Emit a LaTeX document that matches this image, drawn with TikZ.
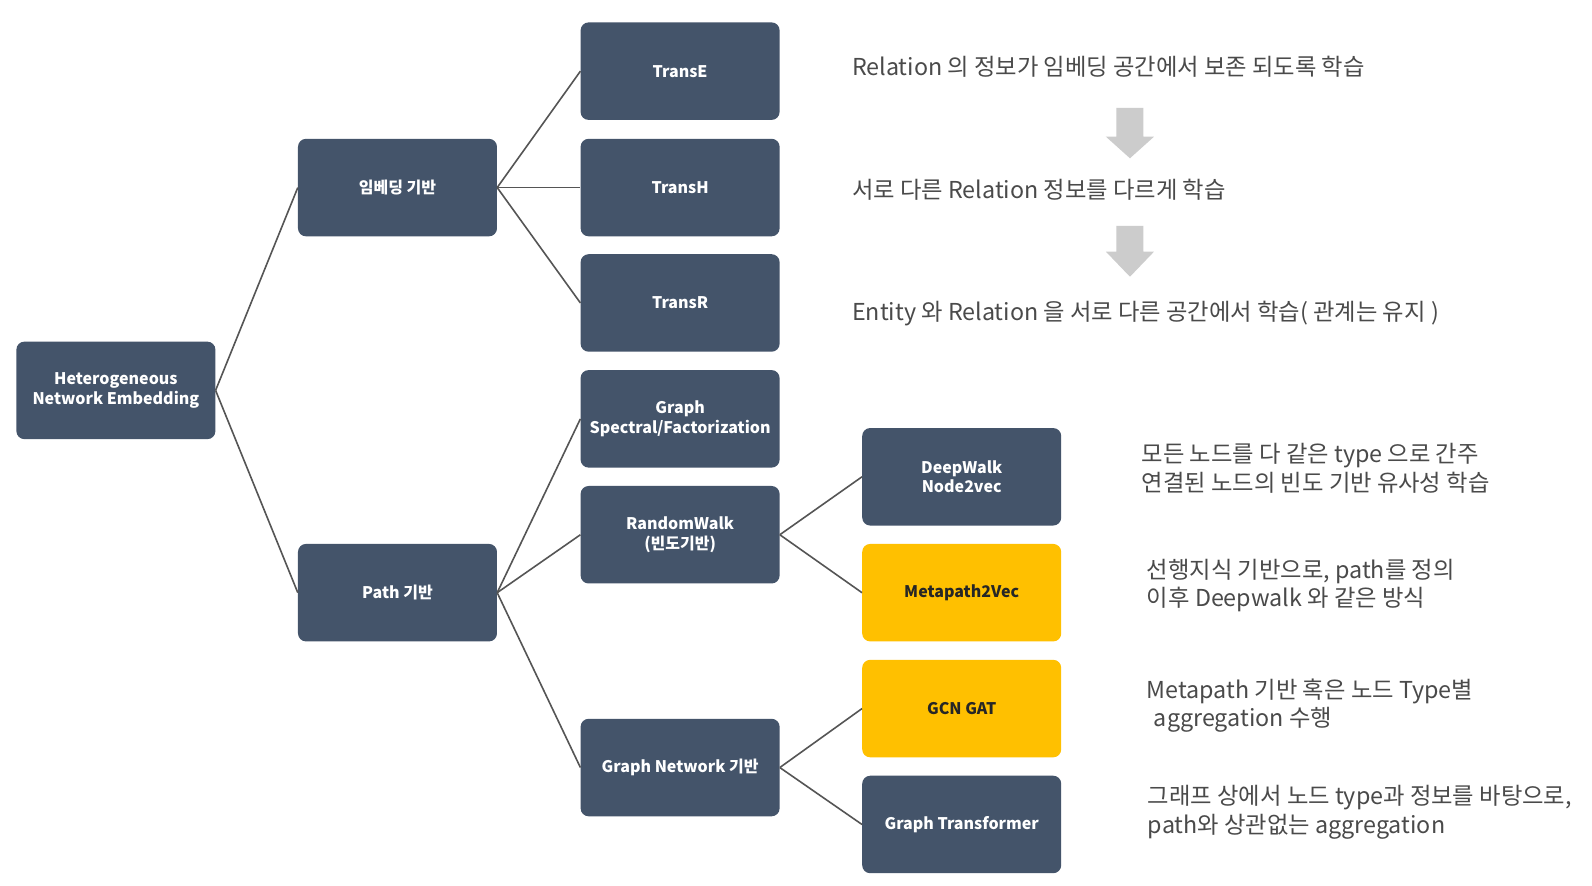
\documentclass[tikz,border=0pt]{standalone}
\usepackage{fontspec}
\setmainfont{Noto Sans CJK KR}
\definecolor{boxblue}{HTML}{44546A}
\definecolor{boxyellow}{HTML}{FFC000}
\definecolor{linegray}{HTML}{555555}
\definecolor{txtgray}{HTML}{4A4A4A}
\definecolor{arrowgray}{HTML}{CCCCCC}
\tikzset{
  box/.style={draw=none, fill=boxblue, rounded corners=8pt, minimum width=199pt, minimum height=97.5pt,
    inner sep=2pt, align=center, text=white, font=\bfseries\fontsize{16}{19.5}\selectfont},
  ybox/.style={box, fill=boxyellow, text=black!85},
  conn/.style={draw=linegray, line width=1.6pt},
  note/.style={anchor=west, inner sep=0pt, align=left, text=txtgray, font=\fontsize{23.3}{28.8}\selectfont},
  blockarrow/.style={fill=arrowgray, draw=none}
}
\begin{document}
\begin{tikzpicture}[x=1.0166pt, y=-1.0166pt]
\useasboundingbox (0,0) rectangle (1566,870.6);
\fill[white] (0,0) rectangle (1566,870.6);
% boxes
\node[box] (hne) at (114,384) {Heterogeneous\\Network Embedding};
\node[box] (emb) at (391,184.5) {임베딩 기반};
\node[box] (path) at (391,583) {Path 기반};
\node[box] (transe) at (669,70) {TransE};
\node[box] (transh) at (669,184.5) {TransH};
\node[box] (transr) at (669,298) {TransR};
\node[box] (spec) at (669,412) {Graph\\Spectral/Factorization};
\node[box] (rw) at (669,526) {RandomWalk\\(빈도기반)};
\node[box] (gn) at (669,755) {Graph Network 기반};
\node[box] (dw) at (946,469) {DeepWalk\\Node2vec};
\node[ybox] (mp) at (946,583) {Metapath2Vec};
\node[ybox] (gcn) at (946,697) {GCN GAT};
\node[box] (gt) at (946,811) {Graph Transformer};
% connectors
\draw[conn] (hne.east) -- (emb.west);
\draw[conn] (hne.east) -- (path.west);
\draw[conn] (emb.east) -- (transe.west);
\draw[conn] (emb.east) -- (transh.west);
\draw[conn] (emb.east) -- (transr.west);
\draw[conn] (path.east) -- (spec.west);
\draw[conn] (path.east) -- (rw.west);
\draw[conn] (path.east) -- (gn.west);
\draw[conn] (rw.east) -- (dw.west);
\draw[conn] (rw.east) -- (mp.west);
\draw[conn] (gn.east) -- (gcn.west);
\draw[conn] (gn.east) -- (gt.west);
% notes
\node[note] (n1) at (838,66) {Relation 의 정보가 임베딩 공간에서 보존 되도록 학습};
\node[note] (n2) at (838,187) {서로 다른 Relation 정보를 다르게 학습};
\node[note] (n3) at (838,308) {Entity 와 Relation 을 서로 다른 공간에서 학습( 관계는 유지 )};
\node[note] (n4) at (1123,461) {모든 노드를 다 같은 type 으로 간주\\연결된 노드의 빈도 기반 유사성 학습};
\node[note] (n5) at (1128,576) {선행지식 기반으로, path를 정의\\이후 Deepwalk 와 같은 방식};
\node[note] (n6) at (1128,694) {Metapath 기반 혹은 노드 Type별\\\hspace*{0.3em}aggregation 수행};
\node[note] (n7) at (1129,799) {그래프 상에서 노드 type과 정보를 바탕으로,\\path와 상관없는 aggregation};
% block arrows
\fill[blockarrow] (1098.2,106.2) -- (1124.8,106.2) -- (1124.8,134.5) -- (1135.1,134.5) -- (1111.5,155.7) -- (1087.9,134.5) -- (1098.2,134.5) -- cycle;
\fill[blockarrow] (1098.2,222.3) -- (1124.8,222.3) -- (1124.8,247.6) -- (1135.1,247.6) -- (1111.5,272.2) -- (1087.9,247.6) -- (1098.2,247.6) -- cycle;
\end{tikzpicture}
\end{document}
